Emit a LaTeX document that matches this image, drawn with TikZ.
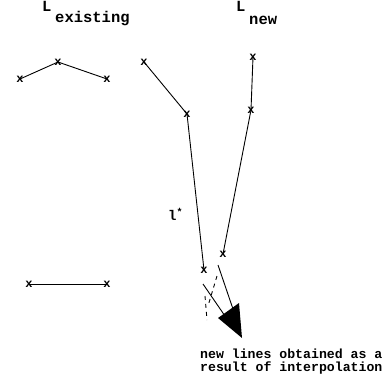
\documentclass[tikz,border=0pt]{standalone}
\usepackage{fontspec}
\setmonofont{Liberation Mono}
\begin{document}
\begin{tikzpicture}[x=1pt,y=-1pt,
  ptmark/.style={font=\ttfamily\bfseries\fontsize{12}{12}\selectfont,inner sep=0pt},
  lbl/.style={font=\ttfamily\bfseries\fontsize{15.5}{15.5}\selectfont,inner sep=0pt,anchor=base west},
  note/.style={font=\ttfamily\bfseries\fontsize{13.2}{13}\selectfont,inner sep=0pt,anchor=north west,align=left},
  seg/.style={line width=0.9pt},
  dseg/.style={line width=0.9pt,dash pattern=on 4pt off 4pt}]
\useasboundingbox (0,0) rectangle (391,385);

% titles
\node[lbl] (Lex) at (42,12) {L};
\node[lbl] (Lexs) at (55,23) {existing};
\node[lbl] (Lnw) at (236,12) {L};
\node[lbl] (Lnws) at (249,25) {new};

% existing polyline
\node[ptmark] (e1) at (20,79) {x};
\node[ptmark] (e2) at (58,62) {x};
\node[ptmark] (e3) at (107,79) {x};
\draw[seg] (e1.center) -- (e2.center) -- (e3.center);

% existing bottom segment
\node[ptmark] (b1) at (29,284) {x};
\node[ptmark] (b2) at (107,284) {x};
\draw[seg] (b1.center) -- (b2.center);

% middle line
\node[ptmark] (m1) at (144,62) {x};
\node[ptmark] (m2) at (187,114) {x};
\node[ptmark] (m3) at (204,270) {x};
\draw[seg] (m1.center) -- (m2.center) -- (m3.center);

% new line
\node[ptmark] (n1) at (253,57) {x};
\node[ptmark] (n2) at (251,110) {x};
\node[ptmark] (n3) at (223,254) {x};
\draw[seg] (n1.center) -- (n2.center) -- (n3.center);

% l* label
\node[lbl,font=\ttfamily\bfseries\fontsize{14}{14}\selectfont] (lstar) at (168,220) {l\raisebox{5pt}{\fontsize{10}{10}\selectfont *}};

% interpolated lines
\coordinate (a1) at (203,284);
\coordinate (a2) at (225,316);
\coordinate (c1) at (218,265);
\coordinate (c2) at (233,309);
\coordinate (d1) at (217,276);
\coordinate (d2) at (208,306);
\coordinate (f1) at (205,296);
\coordinate (f2) at (207,320);
\draw[seg] (a1) -- (a2);
\draw[seg] (c1) -- (c2);
\draw[dseg] (d1) -- (d2);
\draw[dseg] (f1) -- (f2);

% big arrow head
\coordinate (t1) at (218,318);
\coordinate (t2) at (239,303);
\coordinate (t3) at (242,338);
\fill (t1) -- (t2) -- (t3) -- cycle;

% note
\node[note] (nt) at (200,349) {new lines obtained as a\\result of interpolation};
\end{tikzpicture}
\end{document}
